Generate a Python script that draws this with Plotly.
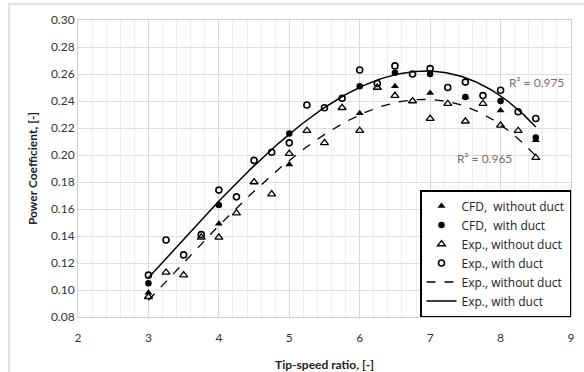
import numpy as np
import plotly.graph_objects as go

# ---- data ----
cfd_x = [3, 4, 5, 6, 6.5, 7, 7.5, 8, 8.5]
cfd_no_duct = [0.098, 0.149, 0.193, 0.231, 0.251, 0.246, 0.243, 0.233, 0.211]
cfd_duct = [0.105, 0.163, 0.216, 0.251, 0.261, 0.260, 0.243, 0.240, 0.213]

exp_x = [3, 3.25, 3.5, 3.75, 4, 4.25, 4.5, 4.75, 5, 5.25, 5.5, 5.75,
         6, 6.25, 6.5, 6.75, 7, 7.25, 7.5, 7.75, 8, 8.25, 8.5]
exp_duct = [0.111, 0.137, 0.126, 0.141, 0.174, 0.169, 0.196, 0.202, 0.209,
            0.237, 0.235, 0.242, 0.263, 0.253, 0.266, 0.260, 0.264, 0.250,
            0.254, 0.244, 0.248, 0.232, 0.227]
exp_no_duct = [0.095, 0.113, 0.111, 0.139, 0.139, 0.157, 0.180, 0.171, 0.201,
               0.218, 0.209, 0.235, 0.218, 0.250, 0.244, 0.240, 0.227, 0.238,
               0.225, 0.238, 0.222, 0.218, 0.198]

r2_duct = "R² = 0.975"
r2_no_duct = "R² = 0.965"

x_ticks = [2, 3, 4, 5, 6, 7, 8, 9]
y_ticks = [0.08, 0.10, 0.12, 0.14, 0.16, 0.18, 0.20, 0.22, 0.24, 0.26, 0.28, 0.30]

# polynomial trendlines (Excel-style, order 3) fitted to the experimental data
xx = np.linspace(min(exp_x), max(exp_x), 200)
fit_duct = np.polyval(np.polyfit(exp_x, exp_duct, 3), xx)
fit_no_duct = np.polyval(np.polyfit(exp_x, exp_no_duct, 3), xx)

FONT = "Lato"
fig = go.Figure()

fig.add_trace(go.Scatter(x=cfd_x, y=cfd_no_duct, mode="markers", name="CFD,  without duct",
                         marker=dict(symbol="triangle-up", size=7, color="black")))
fig.add_trace(go.Scatter(x=cfd_x, y=cfd_duct, mode="markers", name="CFD,  with duct",
                         marker=dict(symbol="circle", size=6.5, color="black")))
fig.add_trace(go.Scatter(x=exp_x, y=exp_no_duct, mode="markers", name="Exp., without duct",
                         marker=dict(symbol="triangle-up-open", size=7, color="black",
                                     line=dict(width=1.3, color="black"))))
fig.add_trace(go.Scatter(x=exp_x, y=exp_duct, mode="markers", name="Exp., with duct",
                         marker=dict(symbol="circle-open", size=6, color="black",
                                     line=dict(width=1.6, color="black"))))
fig.add_trace(go.Scatter(x=xx, y=fit_no_duct, mode="lines", name="Exp., without duct",
                         line=dict(color="black", width=1.3, dash="dash")))
fig.add_trace(go.Scatter(x=xx, y=fit_duct, mode="lines", name="Exp., with duct",
                         line=dict(color="black", width=1.5)))

fig.add_annotation(x=8.51, y=0.2535, text=r2_duct, showarrow=False,
                   font=dict(family=FONT, size=12, color="#7d6d69"))
fig.add_annotation(x=7.77, y=0.1975, text=r2_no_duct, showarrow=False,
                   font=dict(family=FONT, size=12, color="#7d6d69"))

# outer chart border
fig.add_shape(type="rect", xref="paper", yref="paper",
              x0=-0.140, x1=1.05, y0=-0.3, y1=1.054,
              line=dict(color="#d9d9d9", width=1.5), layer="below")

fig.update_layout(
    width=584, height=372,
    margin=dict(l=78, r=13, t=20, b=55),
    paper_bgcolor="white", plot_bgcolor="white",
    font=dict(family=FONT, size=12, color="#333333"),
    showlegend=True,
    legend=dict(x=1.0, y=0.0, xanchor="right", yanchor="bottom",
                bgcolor="white", bordercolor="black", borderwidth=1.5,
                font=dict(family="Open Sans", size=12, color="#222222"),
                tracegroupgap=0, itemwidth=30),
    xaxis=dict(range=[2, 9], tickvals=x_ticks, ticktext=[str(v) for v in x_ticks],
               automargin=False, ticklabelstandoff=10,
               showgrid=True, gridcolor="#d9d9d9", gridwidth=1.3,
               minor=dict(dtick=0.2, showgrid=True, gridcolor="#eeeeee", gridwidth=1),
               showline=True, linecolor="#d0d0d0", linewidth=1, mirror=True,
               zeroline=False, ticks="", ticklen=0,
               title=dict(text="<b>Tip-speed ratio, [-]</b>", font=dict(size=12, color="#222222"),
                          standoff=16)),
    yaxis=dict(range=[0.08, 0.30], tickvals=y_ticks, ticktext=[f"{v:.2f}" for v in y_ticks],
               automargin=False,
               showgrid=True, gridcolor="#dedede", gridwidth=1.3,
               showline=True, linecolor="#d0d0d0", linewidth=1, mirror=True,
               zeroline=False, ticks="", ticklen=0,
               title=dict(text="<b>Power Coefficient, [-]</b>", font=dict(size=12, color="#222222"),
                          standoff=10)),
)

fig.write_html("out.html", config={"displayModeBar": False},
               post_script="document.body.style.margin='0';")
